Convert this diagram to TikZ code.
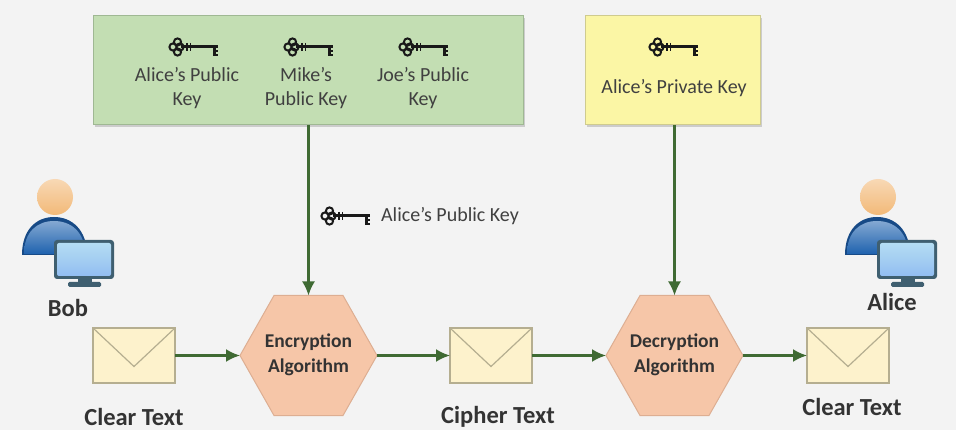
\documentclass[tikz,border=0pt]{standalone}
\usepackage{fontspec}
\setmainfont{Carlito}
\usetikzlibrary{arrows.meta,calc}
\definecolor{bgc}{HTML}{F3F3F3}
\definecolor{greenbox}{HTML}{C3DEB3}
\definecolor{greenedge}{HTML}{9FB893}
\definecolor{yellowbox}{HTML}{FBF6A5}
\definecolor{yellowedge}{HTML}{CFCB8E}
\definecolor{hexfill}{HTML}{F6C6A8}
\definecolor{hexedge}{HTML}{DDAE92}
\definecolor{envfill}{HTML}{FDF2CC}
\definecolor{envedge}{HTML}{B5AE90}
\definecolor{arrowc}{HTML}{3F6A33}
\definecolor{txt}{HTML}{404040}
\definecolor{bluebody}{HTML}{1F62AE}
\definecolor{bluedark}{HTML}{174A86}
\definecolor{skin}{HTML}{F2B978}
\definecolor{screen}{HTML}{8CCBEC}
\definecolor{screenedge}{HTML}{3F5F70}
\tikzset{
  x=1pt,y=-1pt,
  every node/.style={inner sep=0pt,outer sep=0pt,align=center,text=txt},
  label17/.style={font=\fontsize{20}{24}\selectfont},
  bold20/.style={font=\fontsize{24.5}{28}\selectfont\bfseries,text=black!80},
  hexlabel/.style={font=\fontsize{19.5}{25}\selectfont\bfseries,text=black!80},
  flow/.style={draw=arrowc,line width=2.2pt,-{Latex[length=14pt,width=13pt]}},
  envbox/.style={draw=envedge,fill=envfill,line width=1.2pt,minimum width=82pt,minimum height=55pt},
  hexnode/.style={minimum width=137pt,minimum height=120pt},
  hexshape/.style={draw=hexedge,fill=hexfill,line width=1pt},
  panel/.style={minimum height=109pt,line width=1pt},
  pics/keyicon/.style={code={
    \draw[black!90,line width=2pt] (-3.5,-5) circle (3.6) (-3.5,5) circle (3.6) (-8,0) circle (3.6) (-1,0) circle (3.6);
    \draw[black!90,line width=3pt] (0,0) -- (37,0);
    \draw[black!90,line width=1.6pt] (6,-4) -- (6,4) (9.5,-4) -- (9.5,4);
    \draw[black!90,line width=3pt] (33.5,0) -- (33.5,9);
    \draw[black!90,line width=2pt] (33.5,8) -- (37,8) (33.5,4) -- (37,4);
  }},
  pics/usericon/.style={code={
    \shade[top color=skin!55!white,bottom color=skin] (55,27) circle (18);
    \fill[bluedark] (22,85) .. controls (22,60) and (36,47) .. (54,47) .. controls (72,47) and (87,60) .. (87,85) -- cycle;
    \shade[top color=bluebody!55!white,bottom color=bluebody] (24,84) .. controls (24,62) and (37,51) .. (54,51) .. controls (71,51) and (85,62) .. (85,84) -- cycle;
    \fill[screenedge] (78,105) rectangle (92,113);
    \fill[screenedge,rounded corners=1.5pt] (68,112) rectangle (101,117);
    \fill[screenedge,rounded corners=3pt] (54,70) rectangle (114,109);
    \shade[top color=screen!65!white,bottom color=screen!85!blue!80,rounded corners=2pt] (57,73) rectangle (111,106);
  }},
}
\begin{document}
\begin{tikzpicture}
\useasboundingbox (0,0) rectangle (956,430);
\fill[bgc] (0,0) rectangle (956,430);

% shadows of the panels
\fill[black!20] (95,18) rectangle (525,127);
\fill[black!20] (587,18) rectangle (762,127);

\node[panel,draw=greenedge,fill=greenbox,minimum width=430pt] (pub) at (308,70.5) {};
\node[panel,draw=yellowedge,fill=yellowbox,minimum width=175pt] (priv) at (672.5,70.5) {};

\pic at (181,47) {keyicon};
\pic at (296,47) {keyicon};
\pic at (411,47) {keyicon};
\pic at (661,47) {keyicon};
\pic at (333,216) {keyicon};

\node[label17] (k1) at (187,88) {Alice’s Public\\Key};
\node[label17] (k2) at (306,88) {Mike’s\\Public Key};
\node[label17] (k3) at (423,88) {Joe’s Public\\Key};
\node[label17] (k4) at (674,88) {Alice’s Private Key};
\node[label17] (k5) at (450,216) {Alice’s Public Key};

\pic at (0,170) {usericon};
\pic at (823,170) {usericon};
\node[bold20] (bob) at (68,308) {Bob};
\node[bold20] (alice) at (892,302) {Alice};

\node[envbox] (e1) at (134,355.5) {};
\node[envbox] (e2) at (491,355.5) {};
\node[envbox] (e3) at (848,355.5) {};
\foreach \e in {e1,e2,e3}
  \draw[envedge,line width=1.2pt] (\e.north west) -- ($(\e.center)+(0,11)$) -- (\e.north east);

\node[hexnode] (enc) at (308.5,355.5) {};
\node[hexnode] (dec) at (674.5,355.5) {};
\foreach \h in {enc,dec}
  \draw[hexshape] (\h.west) -- ($(\h.north west)+(34,0)$) -- ($(\h.north east)+(-34,0)$) -- (\h.east) -- ($(\h.south east)+(-34,0)$) -- ($(\h.south west)+(34,0)$) -- cycle;
\node[hexlabel] (enct) at (308.5,355) {Encryption\\Algorithm};
\node[hexlabel] (dect) at (674.5,355) {Decryption\\Algorithm};

\node[bold20] (c1) at (134,417) {Clear Text};
\node[bold20] (c2) at (498,417) {Cipher Text};
\node[bold20] (c3) at (852,407) {Clear Text};

\draw[flow] (pub.south -| enc.north) -- (enc.north);
\draw[flow] (priv.south -| dec.north) -- (dec.north);
\draw[flow] (e1.east) -- (enc.west);
\draw[flow] (enc.east) -- (e2.west);
\draw[flow] (e2.east) -- (dec.west);
\draw[flow] (dec.east) -- (e3.west);
\end{tikzpicture}
\end{document}
